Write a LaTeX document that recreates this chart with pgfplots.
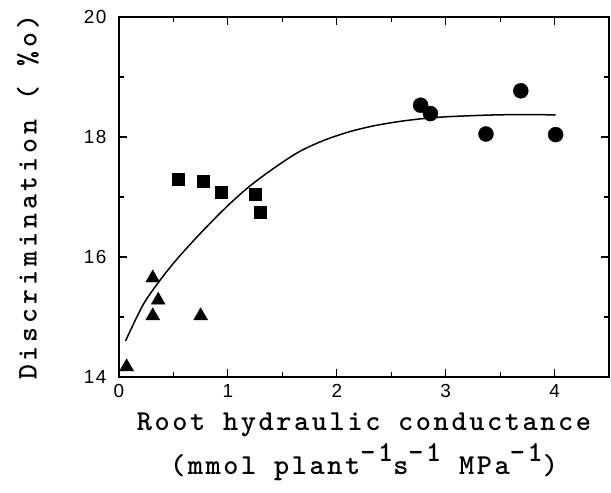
\documentclass[border=0pt]{standalone}
\usepackage{fontspec}
\usepackage{pgfplots}
\pgfplotsset{compat=1.18}
\newfontfamily\labfont{lmmonolt10-bold.otf}[LetterSpace=9]
\newfontfamily\ylabfont{lmmonolt10-bold.otf}[LetterSpace=14]
\newfontfamily\tickfont{Liberation Sans}[LetterSpace=8]
\newcommand{\sups}[1]{\raisebox{0.45em}{#1}}
\begin{document}
\begin{tikzpicture}
\begin{axis}[
  scale only axis,
  width=490bp, height=360bp,
  xmin=0, xmax=4.5, ymin=14, ymax=20,
  xtick={0,1,2,3,4}, ytick={14,16,18,20},
  minor xtick={0.5,1.5,2.5,3.5,4.5},
  minor ytick={15,17,19},
  tick align=inside,
  major tick length=8bp, minor tick length=5bp,
  every tick/.style={black, line width=1.2bp},
  axis line style={line width=1.8bp},
  tick label style={font=\tickfont\fontsize{19}{19}\selectfont},
  /pgf/number format/assume math mode=true,
  xticklabel style={yshift=-4bp},
  yticklabel style={xshift=-9bp},
  xlabel={Root hydraulic conductance\\[2bp](mmol plant\sups{-1}s\sups{-1} MPa\sups{-1})},
  xlabel style={font=\labfont\fontsize{29}{42}\selectfont, align=center,
    at={(axis description cs:0.5,0)}, anchor=north, yshift=-32bp},
  ylabel={Discrimination ( \%o)},
  ylabel style={font=\ylabfont\fontsize{28.5}{34}\selectfont,
    at={(axis description cs:-0.186,0.5)}, anchor=center},
]
% fitted response curve
\addplot[smooth, line width=1.5bp, black] coordinates {
  (0.06,14.60) (0.22,15.20) (0.38,15.62) (0.53,15.96) (0.74,16.38)
  (0.99,16.84) (1.20,17.18) (1.43,17.49) (1.66,17.76) (1.89,17.95)
  (2.12,18.09) (2.35,18.19) (2.58,18.26) (2.81,18.31) (3.04,18.34)
  (3.50,18.37) (4.01,18.37)
};
% triangles
\addplot[only marks, mark=triangle*, mark size=8bp, black] coordinates {
  (0.07,14.17) (0.31,15.65) (0.36,15.28) (0.31,15.02) (0.75,15.02)
};
% squares
\addplot[only marks, mark=square*, mark size=6bp, black] coordinates {
  (0.54,17.29) (0.77,17.26) (0.94,17.08) (1.25,17.05) (1.30,16.74)
};
% circles
\addplot[only marks, mark=*, mark size=7.5bp, black] coordinates {
  (2.77,18.53) (2.86,18.39) (3.37,18.05) (3.69,18.77) (4.01,18.04)
};
\end{axis}
\pgfresetboundingbox
\path ([xshift=-119bp,yshift=-116bp]current axis.south west) rectangle ([xshift=2bp,yshift=17bp]current axis.north east);
\end{tikzpicture}
\end{document}
